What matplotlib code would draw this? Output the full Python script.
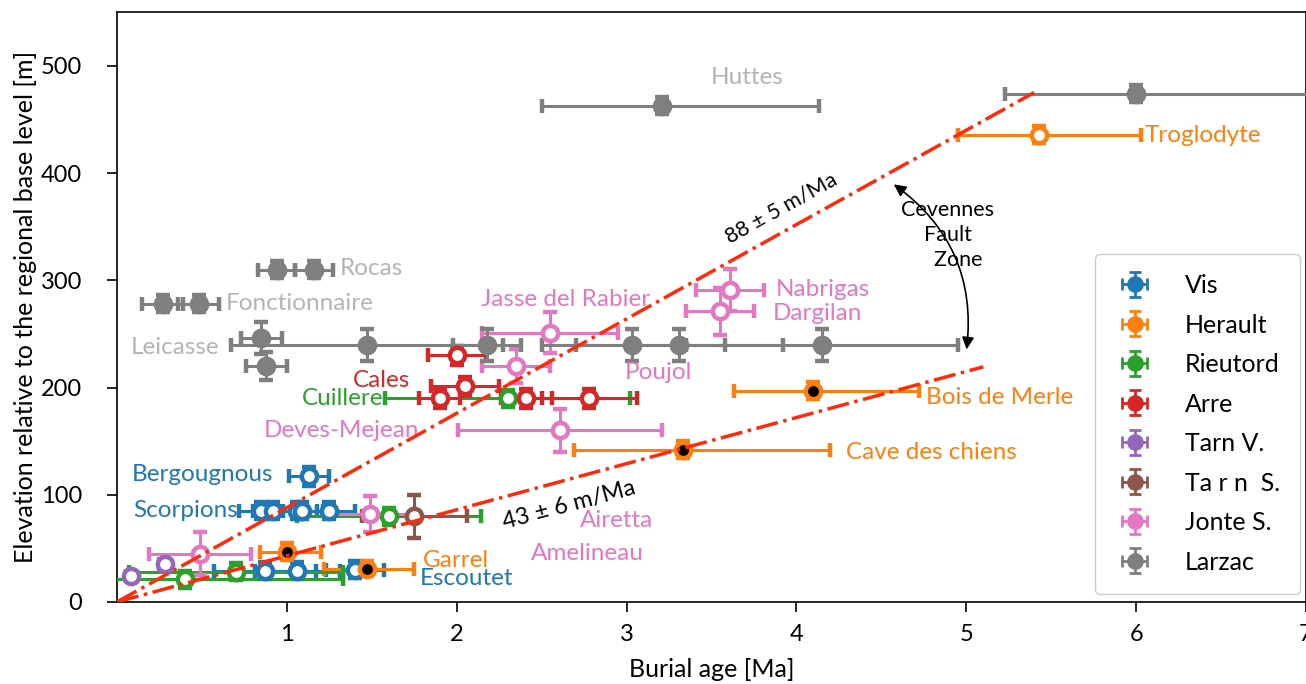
import numpy as np
import matplotlib.pyplot as plt

plt.rcParams['font.family'] = ['Lato', 'DejaVu Sans']

# ---- data (burial age [Ma], elevation [m]) ----
rivers = ['Vis', 'Herault', 'Rieutord', 'Arre', 'Tarn V.', 'Ta r n  S.', 'Jonte S.', 'Larzac']
colors = ['#1f77b4', '#ff7f0e', '#2ca02c', '#d62728', '#9467bd', '#8c564b', '#e377c2', '#7f7f7f']

vis_x = [1.13, 0.85, 0.92, 1.06, 1.09, 1.25, 0.87, 1.06, 1.40]
vis_y = [117, 85, 85, 85, 85, 85, 29, 29, 30]
vis_xerr = [0.12, 0.13, 0.12, 0.12, 0.12, 0.15, 0.30, 0.25, 0.17]
vis_yerr = [9, 8, 8, 8, 8, 8, 8, 8, 8]

herault_x = [5.43, 4.10, 3.33, 1.00, 1.47]
herault_y = [436, 197, 142, 47, 31]
herault_xerr_lo = [0.48, 0.47, 0.64, 0.16, 0.25]
herault_xerr_hi = [0.60, 0.62, 0.87, 0.20, 0.28]
herault_yerr = [8, 8, 8, 8, 7]
herault_face = ['w', 'k', 'k', 'k', 'k']

rieutord_x = [2.30, 1.60, 0.70, 0.40]
rieutord_y = [190, 80, 28, 21]
rieutord_xerr = [0.72, 0.54, 0.63, 0.93]
rieutord_yerr = [8, 8, 8, 8]

arre_x = [2.00, 2.05, 1.90, 2.41, 2.78]
arre_y = [230, 201, 190, 190, 190]
arre_xerr = [0.17, 0.20, 0.12, 0.15, 0.28]
arre_yerr = [9, 9, 9, 9, 9]

tarnv_x = [0.08, 0.28]
tarnv_y = [24, 35]
tarnv_xerr = [0.03, 0.03]
tarnv_yerr = [3, 3]

tarns_x = [1.75]
tarns_y = [80]
tarns_xerr = [0.31]
tarns_yerr = [20]

jonte_x = [2.55, 2.35, 2.61, 3.61, 3.55, 1.49, 0.49]
jonte_y = [251, 220, 160, 291, 271, 82, 45]
jonte_xerr = [0.40, 0.20, 0.60, 0.20, 0.20, 0.25, 0.30]
jonte_yerr = [19, 16, 20, 20, 22, 17, 20]

larzac_x = [3.21, 6.00, 0.94, 1.16, 0.27, 0.48, 0.85, 0.88, 1.47, 2.18, 3.03, 3.31, 4.15]
larzac_y = [463, 474, 310, 310, 278, 278, 246, 220, 240, 240, 240, 240, 240]
larzac_xerr_lo = [0.71, 0.77, 0.11, 0.11, 0.12, 0.12, 0.12, 0.12, 0.80, 0.20, 0.53, 0.61, 0.80]
larzac_xerr_hi = [0.92, 1.10, 0.11, 0.11, 0.12, 0.12, 0.12, 0.12, 0.80, 0.20, 0.55, 0.61, 0.80]
larzac_yerr = [8, 8, 8, 8, 8, 8, 15, 13, 15, 15, 15, 15, 15]

# site names: (text, x, y, colour index, ha)
site_labels = [
    ('Huttes', 3.71, 489, 'lightgray', 'center'),
    ('Rocas', 1.31, 311, 'lightgray', 'left'),
    ('Fonctionnaire', 0.64, 278, 'lightgray', 'left'),
    ('Leicasse', 0.60, 237, 'lightgray', 'right'),
    ('Troglodyte', 6.05, 435, 1, 'left'),
    ('Bois de Merle', 4.76, 191, 1, 'left'),
    ('Cave des chiens', 4.29, 139, 1, 'left'),
    ('Garrel', 1.80, 39, 1, 'left'),
    ('Escoutet', 1.785, 22, 0, 'left'),
    ('Bergougnous', 0.92, 119, 0, 'right'),
    ('Scorpions', 0.71, 85, 0, 'right'),
    ('Cales', 1.56, 207, 3, 'center'),
    ('Cuillere', 1.57, 190, 2, 'right'),
    ('Deves-Mejean', 1.78, 160, 6, 'right'),
    ('Jasse del Rabier', 2.64, 282, 6, 'center'),
    ('Poujol', 3.19, 214, 6, 'center'),
    ('Nabrigas', 3.88, 291, 6, 'left'),
    ('Dargilan', 3.86, 269, 6, 'left'),
    ('Airetta', 2.94, 76, 6, 'center'),
    ('Amelineau', 2.77, 45, 6, 'center'),
]

rate_fast, rate_slow = 88, 43
fast_end, slow_end = 5.4, 5.1

# ---- plot ----
fig = plt.figure(figsize=(13.06, 6.84), dpi=100)
ax = fig.add_axes([0.0896, 0.12, 0.9104, 0.862])

eb = dict(fmt='o', ms=11, mew=3.2, elinewidth=2.2, capsize=5, capthick=2.2, zorder=3)


def draw(x, y, xerr, yerr, color, face='w'):
    ax.errorbar(x, y, xerr=xerr, yerr=yerr, color=color, mfc=face, mec=color, **eb)


draw(vis_x, vis_y, vis_xerr, vis_yerr, colors[0])
for i in range(len(herault_x)):
    draw([herault_x[i]], [herault_y[i]],
         [[herault_xerr_lo[i]], [herault_xerr_hi[i]]], [herault_yerr[i]],
         colors[1], face=herault_face[i])
draw(rieutord_x, rieutord_y, rieutord_xerr, rieutord_yerr, colors[2])
draw(arre_x, arre_y, arre_xerr, arre_yerr, colors[3])
draw(tarnv_x, tarnv_y, tarnv_xerr, tarnv_yerr, colors[4])
draw(tarns_x, tarns_y, tarns_xerr, tarns_yerr, colors[5])
draw(jonte_x, jonte_y, jonte_xerr, jonte_yerr, colors[6])
draw(larzac_x, larzac_y, [larzac_xerr_lo, larzac_xerr_hi], larzac_yerr,
     colors[7], face=colors[7])

# legend proxies (filled markers)
for name, c in zip(rivers, colors):
    ax.errorbar([np.nan], [np.nan], xerr=[1], yerr=[1], fmt='o', color=c, ms=11,
                elinewidth=2, capsize=4, capthick=2, label=name)

# incision rate lines
xf = np.array([0, fast_end])
xs = np.array([0, slow_end])
ax.plot(xf, rate_fast * xf, color='#ff2a0a', ls='-.', lw=2.5, zorder=5)
ax.plot(xs, rate_slow * xs, color='#ff2a0a', ls='-.', lw=2.5, zorder=5)
ax.text(3.91, 367, '88 ± 5 m/Ma', rotation=29, ha='center', va='center', fontsize=15.5)
ax.text(2.66, 90, '43 ± 6 m/Ma', rotation=15, ha='center', va='center', fontsize=17)

ax.annotate('', xy=(4.56, 391), xytext=(5.0, 233),
            arrowprops=dict(arrowstyle='<|-|>', color='k', lw=1.2,
                            connectionstyle='arc3,rad=0.3', mutation_scale=18))
ax.text(4.89, 342, 'Cevennes\nFault\n    Zone', ha='center', va='center',
        fontsize=15.5, linespacing=1.3)

for text, x, y, c, ha in site_labels:
    col = '#b4b4b4' if c == 'lightgray' else colors[c]
    ax.text(x, y, text, color=col, ha=ha, va='center', fontsize=17.5)

ax.set_xlim(0, 7)
ax.set_ylim(0, 550)
ax.set_xticks([1, 2, 3, 4, 5, 6, 7])
ax.set_yticks([0, 100, 200, 300, 400, 500])
ax.tick_params(labelsize=17, length=7, width=1.2)
ax.tick_params(axis='y', pad=18)
ax.tick_params(axis='x', pad=9)
for s in ax.spines.values():
    s.set_linewidth(1.2)
ax.set_xlabel('Burial age [Ma]', fontsize=18, labelpad=9)
ax.set_ylabel('Elevation relative to the regional base level [m]', fontsize=18, labelpad=3)

ax.legend(loc='upper right', bbox_to_anchor=(0.995, 0.59), borderaxespad=0,
          fontsize=18, labelspacing=0.66, handlelength=1.6, handletextpad=1.2,
          borderpad=0.8, framealpha=1)

fig.savefig('out.png', dpi=100)
